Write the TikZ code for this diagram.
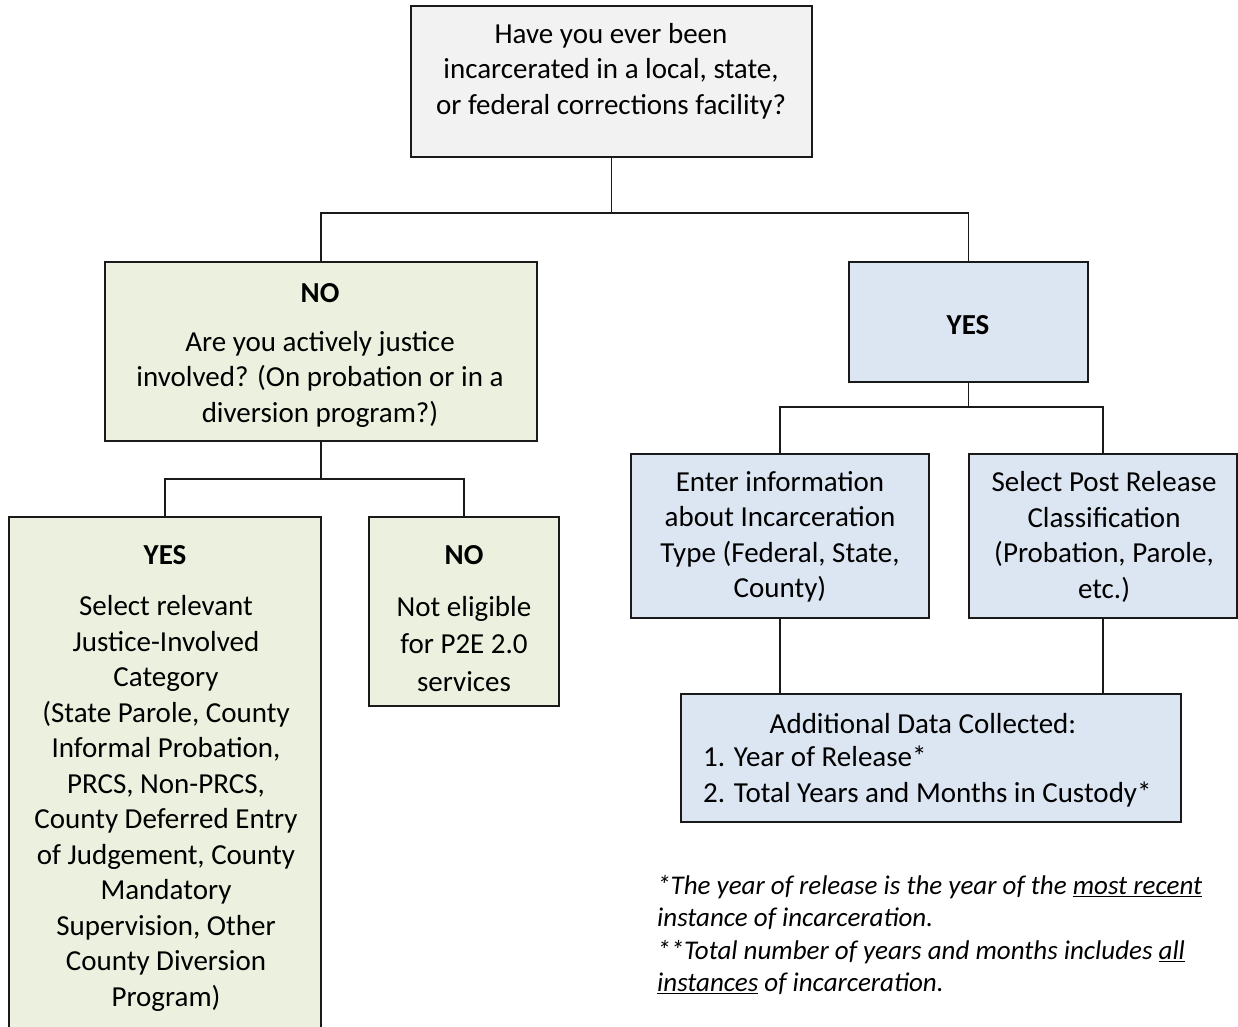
\documentclass[tikz,border=0pt]{standalone}
\usepackage{fontspec}
\setmainfont{Carlito}
\definecolor{boxgray}{HTML}{F2F2F2}
\definecolor{boxgreen}{HTML}{EBF1DE}
\definecolor{boxblue}{HTML}{DCE6F2}
\definecolor{edge}{HTML}{1A1A1A}
\tikzset{
  box/.style={draw=edge, line width=1.8pt, rectangle, inner sep=0pt},
  link/.style={draw=edge, line width=1.8pt},
  txt/.style={align=center, inner sep=0pt, font=\fontsize{29}{35.5}\selectfont},
  ltxt/.style={align=left, inner sep=0pt, anchor=west, font=\fontsize{29}{35.5}\selectfont},
  note/.style={align=left, inner sep=0pt, anchor=north west, font=\fontsize{27}{32.5}\selectfont\itshape},
}
\begin{document}
\begin{tikzpicture}[x=1pt,y=-1pt]
\clip (0,0) rectangle (1238,1026);
\fill[white] (0,0) rectangle (1238,1026);
% boxes
\node[box, fill=boxgray, minimum width=401pt, minimum height=151pt] (top) at (611.5,81.5) {};
\node[box, fill=boxgreen, minimum width=432pt, minimum height=179pt] (no) at (321,351.5) {};
\node[box, fill=boxblue, minimum width=239pt, minimum height=120pt] (yes) at (968.5,322) {};
\node[box, fill=boxgreen, minimum width=312pt, minimum height=530pt] (jyes) at (165,782) {};
\node[box, fill=boxgreen, minimum width=190pt, minimum height=189pt] (jno) at (464,611.5) {};
\node[box, fill=boxblue, minimum width=298pt, minimum height=164pt] (enter) at (780,536) {};
\node[box, fill=boxblue, minimum width=268pt, minimum height=164pt] (post) at (1103,536) {};
\node[box, fill=boxblue, minimum width=500pt, minimum height=128pt] (add) at (931,758) {};
% texts
\node[txt] (toptxt) at (611,71) {Have you ever been\\incarcerated in a local, state,\\or federal corrections facility?};
\node[txt] (nohead) at (320,293) {\bfseries NO};
\node[txt] (notxt) at (320,379) {Are you actively justice\\involved? (On probation or in a\\diversion program?)};
\node[txt] (yestxt) at (968,325) {\bfseries YES};
\node[txt] (jyeshead) at (165,555) {\bfseries YES};
\node[txt] (jyestxt) at (166,803.5) {Select relevant\\Justice-Involved\\Category\\(State Parole, County\\Informal Probation,\\PRCS, Non-PRCS,\\County Deferred Entry\\of Judgement, County\\Mandatory\\Supervision, Other\\County Diversion\\Program)};
\node[txt] (jnohead) at (464,555) {\bfseries NO};
\node[txt, font=\fontsize{29}{37.5}\selectfont] (jnotxt) at (464,644) {Not eligible\\for P2E 2.0\\services};
\node[txt] (entertxt) at (780,537) {Enter information\\about Incarceration\\Type (Federal, State,\\County)};
\node[txt] (posttxt) at (1104,537) {Select Post Release\\Classification\\(Probation, Parole,\\etc.)};
\node[txt] (addhead) at (923,724) {Additional Data Collected:};
\node[ltxt] (addlist) at (703,776.5) {1. Year of Release*\\2. Total Years and Months in Custody*};
\node[note] (notes) at (657,875) {*The year of release is the year of the \underline{most recent}\\instance of incarceration.\\**Total number of years and months includes \underline{all}\\\underline{instances} of incarceration.};
% connectors
\path (top.south) ++(0,55) coordinate (j1);
\path (no.south) ++(0,37) coordinate (j2);
\path (yes.south) ++(0,24) coordinate (j3);
\draw[link] (top.south) -- (j1);
\draw[link] (no.north) |- (j1) -| (yes.north);
\draw[link] (no.south) -- (j2);
\draw[link] (jyes.north) |- (j2) -| (jno.north);
\draw[link] (yes.south) -- (j3);
\draw[link] (enter.north) |- (j3) -| (post.north);
\draw[link] (enter.south) -- (enter.south |- add.north);
\draw[link] (post.south) -- (post.south |- add.north);
\end{tikzpicture}
\end{document}
